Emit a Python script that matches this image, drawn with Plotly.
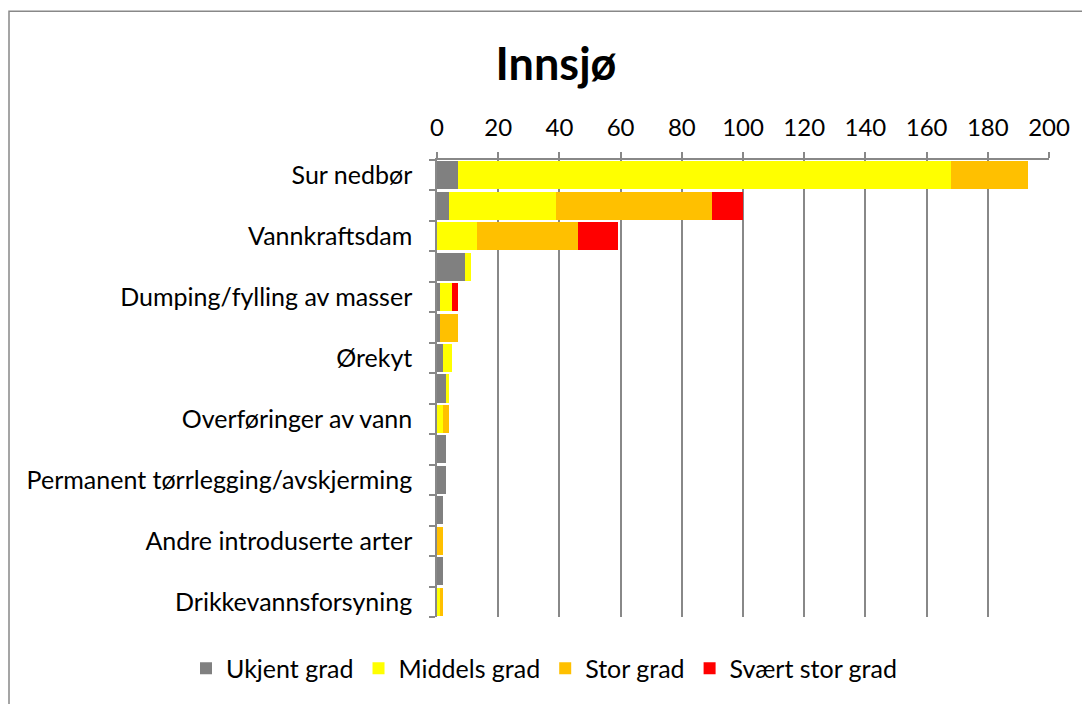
import plotly.graph_objects as go

categories = [
    "Sur nedbør",
    "Kategori 2",
    "Vannkraftsdam",
    "Kategori 4",
    "Dumping/fylling av masser",
    "Kategori 6",
    "Ørekyt",
    "Kategori 8",
    "Overføringer av vann",
    "Kategori 10",
    "Permanent tørrlegging/avskjerming",
    "Kategori 12",
    "Andre introduserte arter",
    "Kategori 14",
    "Drikkevannsforsyning",
]
show_label = [i % 2 == 0 for i in range(len(categories))]

ukjent = [7, 4, 0, 9, 1, 1, 2, 3, 0, 3, 3, 2, 0, 2, 0]
middels = [161, 35, 13, 2, 4, 0, 3, 1, 2, 0, 0, 0, 0, 0, 1]
stor = [25, 51, 33, 0, 0, 6, 0, 0, 2, 0, 0, 0, 2, 0, 1]
svaert = [0, 10, 13, 0, 2, 0, 0, 0, 0, 0, 0, 0, 0, 0, 0]

series = [
    ("Ukjent grad", ukjent, "#808080"),
    ("Middels grad", middels, "#FFFF00"),
    ("Stor grad", stor, "#FFC000"),
    ("Svært stor grad", svaert, "#FF0000"),
]

x_ticks = list(range(0, 201, 20))

FONT = "Lato"
OFF = 8  # default body margin of the page
W, H = 1090 - OFF, 704 - OFF
L, T = 437 - OFF, 160 - OFF
R = W - (1049 - OFF)
B = H - (621 - OFF)
pw = W - L - R
ph = H - T - B

fig = go.Figure()
for name, vals, col in series:
    fig.add_trace(go.Bar(
        y=categories, x=vals, name=name, orientation="h",
        marker=dict(color=col, line=dict(width=0)),
    ))

fig.update_layout(
    width=W, height=H,
    barmode="stack", bargap=0.08,
    margin=dict(l=L, r=R, t=T, b=B, pad=0),
    paper_bgcolor="white", plot_bgcolor="white",
    font=dict(family=FONT, size=24, color="black"),
    title=dict(text="<b>Innsjø</b>", x=(556 - OFF) / W, xanchor="center",
               y=1 - (64 - OFF) / H, yanchor="middle", yref="container",
               font=dict(family=FONT, size=45, color="black")),
    showlegend=True,
    legend=dict(orientation="h", xref="paper", x=(178 - L) / pw, xanchor="left",
                yref="paper", y=(T + ph - (673 - OFF)) / ph, yanchor="middle",
                font=dict(family=FONT, size=25), traceorder="normal",
                itemwidth=30, itemsizing="constant"),
    xaxis=dict(side="top", range=[0, 200], tickvals=x_ticks,
               showgrid=True, gridcolor="#888888", gridwidth=1.5,
               showline=True, linecolor="#888888", linewidth=1.5,
               ticks="outside", ticklen=6, tickcolor="#888888", tickwidth=1.5,
               zeroline=False, tickfont=dict(family=FONT, size=24),
               ticklabelstandoff=7, fixedrange=True),
    yaxis=dict(autorange="reversed", tickmode="array",
               tickvals=categories,
               ticktext=[c if s else "" for c, s in zip(categories, show_label)],
               showline=True, linecolor="#888888", linewidth=1.5,
               ticks="outside", ticklen=6, tickcolor="#888888", tickwidth=1.5,
               tickson="boundaries", showgrid=False,
               ticklabelstandoff=18,
               tickfont=dict(family=FONT, size=25)),
)

# outer chart frame
fig.add_shape(type="rect", xref="paper", yref="paper",
              x0=(9 - OFF - L) / pw, x1=(W + 20 - L) / pw,
              y0=(T + ph - (H + 20)) / ph, y1=(T + ph - (8 - OFF + 2)) / ph,
              line=dict(color="#888888", width=1.5), fillcolor="rgba(0,0,0,0)",
              layer="below")

fig.write_html("out.html")
